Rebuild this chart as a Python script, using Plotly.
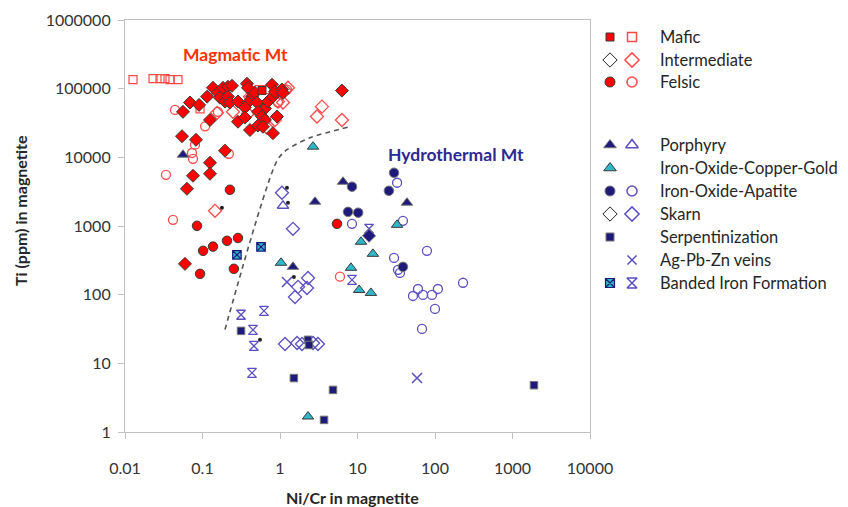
import plotly.graph_objects as go

# ---------------- data (Ni/Cr, Ti ppm) ----------------
mafic_open_x = [0.0127, 0.023, 0.0283, 0.0328, 0.0381, 0.0483, 0.093, 0.536, 0.659]
mafic_open_y = [135000, 140000, 140000, 140000, 135000, 135000, 50700, 97000, 97000]
mafic_fill_x = [0.586]
mafic_fill_y = [93800]

inter_fill_x = [0.056, 0.069, 0.0903, 0.1146, 0.125, 0.1366, 0.158, 0.168, 0.184, 0.195,
                0.213, 0.213, 0.24, 0.226, 0.287, 0.375, 0.386, 0.435, 0.475, 0.386,
                0.353, 0.504, 0.64, 0.70, 0.811, 0.789, 0.861, 1.06, 1.093, 0.287,
                0.353, 0.52, 0.586, 0.64, 0.914, 0.41, 0.52, 0.603, 0.811, 0.0544,
                0.0824, 0.195, 0.125, 0.125, 0.0754, 0.063, 0.0594, 6.3]
inter_fill_y = [46000, 62900, 58000, 76500, 35000, 103000, 87000, 74000, 103000, 65000,
                106500, 76500, 110000, 62900, 65000, 118000, 103000, 76500, 87000, 62900,
                53000, 62900, 51300, 65000, 76500, 114000, 90000, 97000, 87000, 33000,
                38000, 46000, 39300, 35000, 39300, 25000, 29000, 27900, 22500, 20300,
                18000, 12500, 8340, 5760, 5390, 3485, 281, 93800]

inter_open_x = [0.154, 0.247, 0.386, 0.41, 0.942, 1.093, 1.16, 1.267, 0.861, 0.679,
                3.0, 3.48, 6.3, 0.145]
inter_open_y = [44500, 46000, 43400, 76500, 65000, 62900, 93800, 103000, 35000, 27000,
                39300, 54700, 35000, 1663]

felsic_fill_x = [0.226, 0.085, 0.207, 0.287, 0.1366, 0.1018, 0.254, 0.093, 5.44]
felsic_fill_y = [3370, 1006, 609, 669, 501, 435, 238, 201, 1075]

felsic_open_x = [0.0442, 0.108, 0.158, 0.08, 0.0732, 0.0754, 0.219, 0.0338, 0.0416,
                 5.94, 0.942, 1.23]
felsic_open_y = [49000, 28300, 46000, 15300, 11570, 9514, 11270, 5570, 1230,
                 183, 62900, 97000]

porph_fill_x = [0.056, 2.83, 6.5, 1.47, 43.5]
porph_fill_y = [10900, 2254, 4404, 254, 2182]
porph_open_x = [1.093]
porph_open_y = [1973]

iocg_x = [2.67, 32.4, 11.1, 15.8, 8.24, 10.5, 14.9, 1.03, 2.3]
iocg_y = [14300, 1040, 589, 393, 246, 117, 106, 291, 1.68]

ioa_fill_x = [29.6, 25.4, 8.49, 7.54, 10.2, 38.6]
ioa_fill_y = [5957, 3259, 3731, 1608, 1561, 254]
ioa_open_x = [32.4, 38.6, 8.49, 78.7, 29.6, 33.3, 35.3, 60.3, 52, 70, 91.3, 109, 230, 100, 68]
ioa_open_y = [4267, 1189, 1075, 435, 343, 230, 207, 121, 95.7, 99, 99, 121, 149, 62, 31.7]

skarn_fill_x = [14.1]
skarn_fill_y = [720]
skarn_open_x = [1.06, 1.47, 2.3, 1.71, 2.23, 1.56, 1.16, 1.66, 1.92, 2.67, 3.09]
skarn_open_y = [3048, 910, 175, 130, 125, 92.6, 19.1, 19.8, 19.1, 19.8, 19.1]

serp_x = [0.314, 2.3, 2.37, 1.51, 4.83, 3.70, 1893]
serp_y = [29.7, 22, 18.5, 6.1, 4.1, 1.5, 4.8]

agpbzn_x = [1.23, 58.6]
agpbzn_y = [153, 6.1]

bif_fill_x = [0.278, 0.569]
bif_fill_y = [380, 497]
bif_open_x = [0.314, 0.621, 0.448, 0.461, 0.435, 8.49, 14.1]
bif_open_y = [51, 58, 30.7, 17.9, 7.27, 164, 910]

dots_x = [1.267, 1.23, 0.178, 0.552, 1.51]
dots_y = [2182, 3604, 1839, 22, 181]

boundary_x = [0.195, 0.92, 1.23, 2.44, 8.0]
boundary_y = [31, 9000, 12900, 19300, 27900]

x_ticks = [0.01, 0.1, 1, 10, 100, 1000, 10000]
x_tick_labels = ["0.01", "0.1", "1", "10", "100", "1000", "10000"]
y_ticks = [1, 10, 100, 1000, 10000, 100000, 1000000]
y_tick_labels = ["1", "10", "100", "1000", "10000", "100000", "1000000"]

legend_labels = ["Mafic", "Intermediate", "Felsic", "Porphyry", "Iron-Oxide-Copper-Gold",
                 "Iron-Oxide-Apatite", "Skarn", "Serpentinization", "Ag-Pb-Zn veins",
                 "Banded Iron Formation"]

# ---------------- styles ----------------
RED = "#ff0000"
RED_O = "#ff4a4a"
NAVY = "#1e1a7c"
PURP = "#5a4fc2"
CYAN = "#2fb6c9"
EDGE = "#3a3a3a"
FONT = "Lato"
W, H = 848, 507

fig = go.Figure()


def add(x, y, symbol, color, size, lcolor, lwidth, xa="x", ya="y"):
    fig.add_trace(go.Scatter(
        x=x, y=y, mode="markers", xaxis=xa, yaxis=ya, showlegend=False,
        hoverinfo="skip",
        marker=dict(symbol=symbol, color=color, size=size,
                    line=dict(color=lcolor, width=lwidth))))


# boundary dashed line
fig.add_trace(go.Scatter(x=boundary_x, y=boundary_y, mode="lines", showlegend=False,
                         hoverinfo="skip",
                         line=dict(color="#555555", width=1.6, dash="5px,4px", shape="spline",
                                   smoothing=0.8)))

# magmatic
add(mafic_open_x, mafic_open_y, "square-open", RED_O, 8, RED_O, 1.2)
add(inter_open_x, inter_open_y, "diamond-open", RED_O, 10, RED_O, 1.3)
add(felsic_open_x, felsic_open_y, "circle-open", RED_O, 9, RED_O, 1.3)
add(inter_fill_x, inter_fill_y, "diamond", RED, 10, EDGE, 1)
add(mafic_fill_x, mafic_fill_y, "square", RED, 8, EDGE, 1)
add(felsic_fill_x, felsic_fill_y, "circle", RED, 9.5, EDGE, 1)

# hydrothermal
add(ioa_open_x, ioa_open_y, "circle-open", PURP, 9, PURP, 1.3)
add(skarn_open_x, skarn_open_y, "diamond-open", PURP, 10, PURP, 1.3)
add(porph_open_x, porph_open_y, "triangle-up-open", PURP, 10, PURP, 1.3)
add(bif_open_x, bif_open_y, "hourglass-open", PURP, 9, PURP, 1.3)
add(agpbzn_x, agpbzn_y, "x-thin-open", PURP, 10, PURP, 1.5)
add(iocg_x, iocg_y, "triangle-up", CYAN, 10, EDGE, 1)
add(porph_fill_x, porph_fill_y, "triangle-up", NAVY, 10, "#777777", 1)
add(ioa_fill_x, ioa_fill_y, "circle", NAVY, 9.5, "#777777", 1)
add(skarn_fill_x, skarn_fill_y, "diamond", NAVY, 10, "#777777", 1)
add(serp_x, serp_y, "square", NAVY, 7.5, "#777777", 1)
add(bif_fill_x, bif_fill_y, "square-x", CYAN, 8.5, NAVY, 1.2)
add(dots_x, dots_y, "circle", "#222222", 4, "#222222", 0)

# ---------------- legend (drawn in a side panel axis) ----------------
rows = [37, 60, 82, 145, 168, 191, 214, 237, 260, 283]
XF, XO, XT = 610, 632, 658
leg_fill = [("square", RED, EDGE, 8), ("diamond", "white", "#222222", 11),
            ("circle", RED, EDGE, 10), ("triangle-up", NAVY, "#777777", 11),
            ("triangle-up", CYAN, EDGE, 11), ("circle", NAVY, "#777777", 10),
            ("diamond", "white", "#222222", 11), ("square", NAVY, "#777777", 8),
            None, ("square-x", CYAN, NAVY, 9)]
leg_open = [("square-open", RED_O, 9), ("diamond-open", RED_O, 11), ("circle-open", RED_O, 10),
            ("triangle-up-open", PURP, 11), None, ("circle-open", PURP, 10),
            ("diamond-open", PURP, 11), None, ("x-thin-open", PURP, 9),
            ("hourglass-open", PURP, 10)]
for r, f, o in zip(rows, leg_fill, leg_open):
    if f is not None:
        add([XF], [r], f[0], f[1], f[3], f[2], 1.2 if f[0] == "square-x" else 1, "x2", "y2")
    if o is not None:
        add([XO], [r], o[0], o[1], o[2], o[1], 1.5, "x2", "y2")

annotations = []
for r, lab in zip(rows, legend_labels):
    annotations.append(dict(x=XT, y=r, xref="x2", yref="y2", text=lab, showarrow=False,
                            xanchor="left", yanchor="middle",
                            font=dict(family=FONT, size=16.5, color="#262626")))

annotations += [
    dict(x=-0.568, y=5.496, xref="x", yref="y", text="<b>Magmatic Mt</b>", showarrow=False,
         font=dict(family=FONT, size=17.5, color="#ff3300")),
    dict(x=2.271, y=4.038, xref="x", yref="y", text="<b>Hydrothermal Mt</b>", showarrow=False,
         font=dict(family=FONT, size=17.5, color="#2e2a8f")),
    dict(x=(352 - 125) / 723, y=(432 - 497) / 412, xref="paper", yref="paper",
         text="<b>Ni/Cr in magnetite</b>", showarrow=False, xanchor="center", yanchor="middle",
         font=dict(family=FONT, size=16, color="#262626")),
    dict(x=(20 - 125) / 723, y=(432 - 210) / 412, xref="paper", yref="paper",
         text="<b>Ti (ppm) in magnetite</b>", showarrow=False, textangle=-90,
         xanchor="center", yanchor="middle",
         font=dict(family=FONT, size=16, color="#262626")),
]

axis_common = dict(type="log", showgrid=False, zeroline=False, showline=True,
                   linecolor="#c0c0c0", linewidth=1.2, mirror=True, ticks="outside",
                   ticklen=6, tickcolor="#c0c0c0", automargin=False,
                   tickfont=dict(family=FONT, size=16, color="#333333"))

fig.update_layout(
    template="none",
    width=W, height=H, autosize=False,
    margin=dict(l=125, r=0, t=20, b=75, autoexpand=False),
    paper_bgcolor="white", plot_bgcolor="white",
    xaxis=dict(range=[-2, 4], domain=[0, 465 / 723], tickvals=x_ticks, ticktext=x_tick_labels,
               ticklabelstandoff=16, **axis_common),
    yaxis=dict(range=[0, 6], tickvals=y_ticks, ticktext=y_tick_labels,
               ticklabelstandoff=4, **axis_common),
    xaxis2=dict(domain=[465 / 723, 1], range=[590, 848], visible=False, anchor="y2",
                automargin=False),
    yaxis2=dict(domain=[0, 1], range=[432, 20], visible=False, anchor="x2",
                automargin=False),
    annotations=annotations,
    showlegend=False,
)

post = ("document.body.style.margin='0';document.body.style.padding='0';"
        "document.body.style.overflow='hidden';")

fig.write_html("out.html", config={"responsive": False, "displayModeBar": False},
               post_script=post)
